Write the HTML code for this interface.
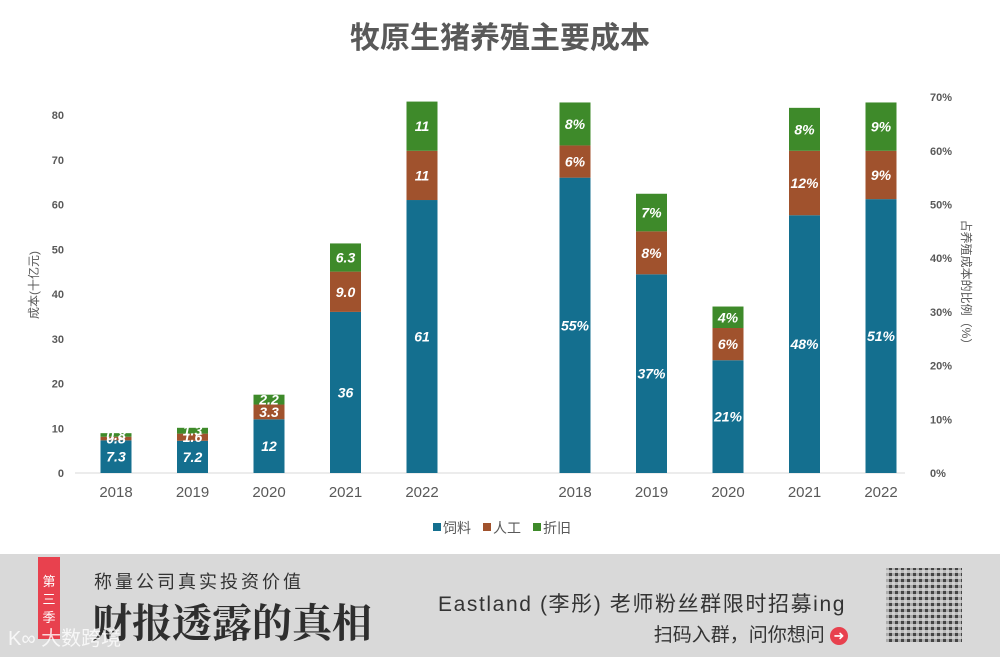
<!DOCTYPE html>
<html><head><meta charset="utf-8">
<style>
body{margin:0;width:1000px;height:657px;overflow:hidden;background:#fff;font-family:"Liberation Sans","Noto Sans CJK SC",sans-serif;}
#banner{position:absolute;left:0;top:554px;width:1000px;height:103px;background:#d9d9d9;}
</style></head><body>
<svg id="chart" width="1000" height="554" style="position:absolute;left:0;top:0" xmlns="http://www.w3.org/2000/svg">
<rect x="0" y="0" width="1000" height="554" fill="#fff"/>
<text x="500" y="48" text-anchor="middle" font-size="30" font-weight="bold" fill="#595959" font-family="Liberation Sans,Noto Sans CJK SC,sans-serif">牧原生猪养殖主要成本</text>
<g id="axes"></g><g id="bars"></g>
<text transform="translate(38,285) rotate(-90)" text-anchor="middle" font-size="12" fill="#595959">成本(十亿元)</text>
<text transform="translate(962,285) rotate(90)" text-anchor="middle" font-size="12" fill="#595959">占养殖成本的比例（%）</text>
<g font-size="14" fill="#595959">
<rect x="433" y="523" width="8" height="8" fill="#146f8f"/><text x="443" y="533">饲料</text>
<rect x="483" y="523" width="8" height="8" fill="#a0522d"/><text x="493" y="533">人工</text>
<rect x="533" y="523" width="8" height="8" fill="#3e8a2a"/><text x="543" y="533">折旧</text>
</g>
</svg>
<div id="banner">
<div style="position:absolute;left:38px;top:3px;width:22px;height:82px;background:#e8414e;color:#fff;font-size:13px;line-height:18px;text-align:center;padding-top:16px;box-sizing:border-box;">第三季</div>
<div style="position:absolute;left:94px;top:14px;font-size:18px;color:#333;letter-spacing:3px;">称量公司真实投资价值</div>
<div style="position:absolute;left:92px;top:38px;font-size:40px;font-weight:bold;color:#2e2e2e;font-family:'Noto Serif CJK SC',serif;">财报透露的真相</div>
<div style="position:absolute;left:8px;top:68px;font-size:20px;color:#fff;opacity:.8;">K∞ 大数跨境</div>
<div style="position:absolute;left:438px;top:34px;font-size:21px;color:#333;letter-spacing:1.6px;">Eastland (李彤) 老师粉丝群限时招募ing</div>
<div style="position:absolute;right:152px;top:66px;font-size:19px;color:#333;">扫码入群，问你想问 <span style="display:inline-block;width:18px;height:18px;border-radius:50%;background:#e8414e;color:#fff;font-size:13px;line-height:18px;text-align:center;vertical-align:middle;">➜</span></div>
<div style="position:absolute;left:886px;top:14px;width:76px;height:74px;background:repeating-linear-gradient(90deg,rgba(217,217,217,.7) 0 3px,transparent 3px 6px),repeating-linear-gradient(0deg,#444 0 3px,#bbb 3px 6px);"></div>
</div>
<script>
const categories=["2018","2019","2020","2021","2022"];
const costFeed=[7.3,7.2,12,36,61];
const costLabor=[0.8,1.6,3.3,9.0,11];
const costDep=[0.8,1.3,2.2,6.3,11];
const costLabels=[["7.3","0.8","0.8"],["7.2","1.6","1.3"],["12","3.3","2.2"],["36","9.0","6.3"],["61","11","11"]];
const pctFeed=[55,37,21,48,51];
const pctLabor=[6,8,6,12,9];
const pctDep=[8,7,4,8,9];
const leftTicks=[0,10,20,30,40,50,60,70,80];
const rightTicks=[0,10,20,30,40,50,60,70];
const colors=["#146f8f","#a0522d","#3e8a2a"];
const NS="http://www.w3.org/2000/svg";
const y0=473;
const yL=v=>y0-v*4.475;
const yR=v=>y0-v*5.37;
const xL=i=>116+i*76.5;
const xR=i=>575+i*76.5;
const axes=document.getElementById('axes'),bars=document.getElementById('bars');
function mk(tag,attrs,parent,txt){const e=document.createElementNS(NS,tag);for(const k in attrs)e.setAttribute(k,attrs[k]);if(txt!==undefined)e.textContent=txt;parent.appendChild(e);return e;}
const base=mk('line',{x1:75,x2:905,y1:y0,y2:y0,stroke:'#d9d9d9','stroke-width':1},axes);


leftTicks.forEach(t=>{const e=mk('text',{x:64,y:yL(t)+4,'text-anchor':'end','font-size':11,'font-weight':'bold',fill:'#595959'},axes,t);

});
rightTicks.forEach(t=>{const e=mk('text',{x:930,y:yR(t)+4,'font-size':11,'font-weight':'bold',fill:'#595959'},axes,t+'%');

});
function drawStack(x,vals,labels,yf){
  let acc=0;
  vals.forEach((v,k)=>{
    const yt=yf(acc+v),yb=yf(acc);
    const r=mk('rect',{x:x-15.5,y:yt,width:31,height:yb-yt,fill:colors[k]},bars);
    
    
    const t=mk('text',{x:x,y:(yt+yb)/2+5,'text-anchor':'middle','font-size':14,'font-weight':'bold','font-style':'italic',fill:'#fff'},bars,labels[k]);
    
    
    acc+=v;
  });
}
categories.forEach((c,i)=>{
  drawStack(xL(i),[costFeed[i],costLabor[i],costDep[i]],costLabels[i],yL);
  drawStack(xR(i),[pctFeed[i],pctLabor[i],pctDep[i]],[pctFeed[i]+'%',pctLabor[i]+'%',pctDep[i]+'%'],yR);
  [xL(i),xR(i)].forEach(x=>{const e=mk('text',{x:x,y:497,'text-anchor':'middle','font-size':15,fill:'#595959'},axes,c);
  
  });
});
</script>
</body></html>
